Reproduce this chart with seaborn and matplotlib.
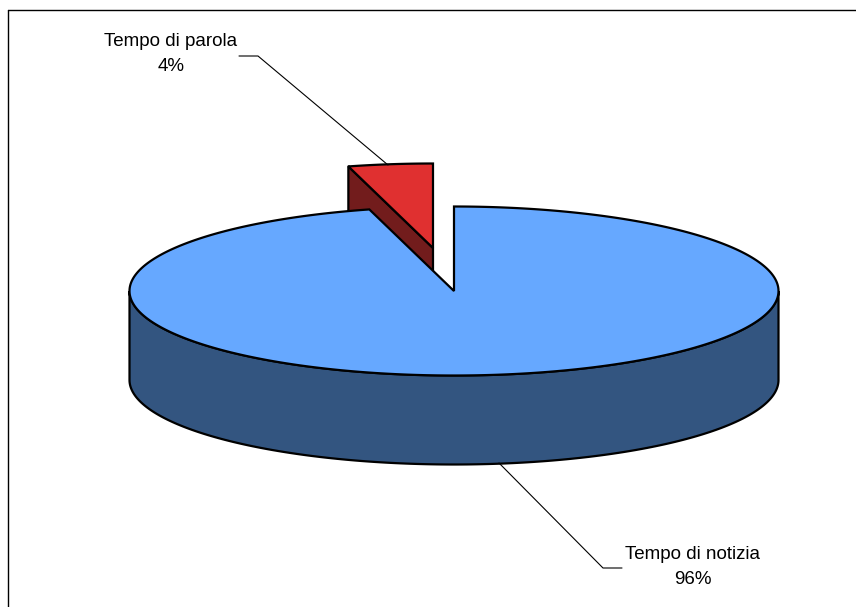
import numpy as np
import seaborn as sns
import matplotlib.pyplot as plt

# Data
labels = ["Tempo di notizia", "Tempo di parola"]
shares = [95.8, 4.2]

# Geometry (pixels of the 856x607 picture)
CX, CY = 454, 291
RX, RY = 324.5, 84.5
DEPTH = 89
EXPLODE = (-21, -43)

top_colors = sns.color_palette(["#66A8FF", "#E03030"])
side_colors = sns.color_palette(["#335580", "#721C1C"])


def arc(start, end, cx, cy, n=200):
    # angles in degrees, clockwise from 12 o'clock
    t = np.radians(np.linspace(start, end, n))
    return cx + RX * np.sin(t), cy - RY * np.cos(t)


def main():
    sns.set_theme(style="white")
    plt.rcParams['font.family'] = ['Liberation Sans', 'DejaVu Sans']

    fig = plt.figure(figsize=(8.56, 6.07), dpi=100)
    ax = fig.add_axes([0, 0, 1, 1])
    ax.set_xlim(0, 856)
    ax.set_ylim(607, 0)
    ax.axis("off")

    angle_main = shares[0] / sum(shares) * 360

    # exploded slice first, the big one covers most of its side
    sx, sy = CX + EXPLODE[0], CY + EXPLODE[1]
    ax_, ay_ = arc(angle_main, 360, sx, sy)
    ax.fill([ax_[0], sx, sx, ax_[0]], [ay_[0], sy, sy + DEPTH, ay_[0] + DEPTH],
            fc=side_colors[1], ec="black", lw=1.6, joinstyle="round")
    ax.fill(np.r_[sx, ax_], np.r_[sy, ay_], fc=top_colors[1], ec="black", lw=1.6)

    # side of the big slice, front half only
    bx, by = arc(90, 270, CX, CY)
    ax.fill(np.r_[bx, bx[::-1]], np.r_[by, by[::-1] + DEPTH],
            fc=side_colors[0], ec="black", lw=1.6)

    # top of the big slice
    tx, ty = arc(0, angle_main, CX, CY, n=600)
    ax.fill(np.r_[CX, tx], np.r_[CY, ty], fc=top_colors[0], ec="black", lw=1.6)

    # leader lines
    ax.plot([239, 258, 388], [56, 56, 165], color="black", lw=0.8)
    ax.plot([499, 603, 622], [463, 568, 568], color="black", lw=0.8)

    ax.text(171, 54, f"{labels[1]}\n{shares[1]:.0f}%", ha="center", va="center",
            fontsize=13.5, linespacing=1.55, color="black")
    ax.text(693, 567, f"{labels[0]}\n{shares[0]:.0f}%", ha="center", va="center",
            fontsize=13.5, linespacing=1.55, color="black")

    # chart frame
    ax.plot([8, 8], [607, 10], color="black", lw=1)
    ax.plot([8, 856], [10, 10], color="black", lw=1)

    fig.savefig("out.png", dpi=100)


if __name__ == "__main__":
    main()
